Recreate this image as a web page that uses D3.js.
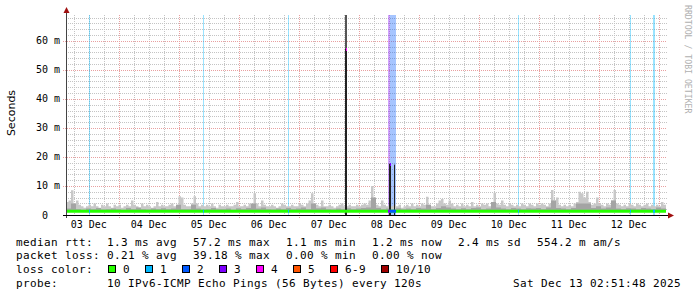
<!DOCTYPE html>
<meta charset="utf-8">
<style>
body { margin: 0; background: #fff; }
text { font-family: "DejaVu Sans Mono", monospace; }
.grid-minor line { stroke: #c4c4c4; stroke-dasharray: 1,1; }
.grid-major line { stroke: #e8a0a0; stroke-dasharray: 1,1; }
.legend text { font-size: 11px; letter-spacing: 0.38px; fill: #000; }
</style>
<svg width="697" height="297"></svg>
<script src="https://d3js.org/d3.v7.min.js"></script>
<script>

var parseTime = d3.timeParse("%Y-%m-%d %H:%M:%S"),
    parseMin = d3.timeParse("%Y-%m-%d %H:%M");

var startTime = "2025-12-03 02:51:48",
    endTime = "2025-12-13 02:51:48";

// median rtt (ms), one value per day
var medianDaily = [1.3, 1.3, 1.3, 1.3, 1.3, 1.3, 1.3, 1.3, 1.3, 1.3];

// top of the light smoke (ms), one value per hour
var smokeHi = [
  4.5, 5, 8.5, 4, 5, 3.5, 3, 2.5, 3, 3.5,
  3, 4, 3, 2.5, 3.5, 3, 4, 3, 2.5, 3.5,
  3, 3.5, 2.5, 3, 3.5, 3, 5, 3.5, 3, 2.5,
  4, 3, 3.5, 3, 2.5, 3, 4.5, 3, 3.5, 3,
  3, 3.5, 4, 3, 3.5, 6.5, 6, 3.5, 3, 3,
  4, 6.5, 4, 3, 3.5, 3, 3.5, 3, 4, 3,
  2.5, 3.5, 3, 3, 3.5, 3, 3, 3.5, 4.5, 3,
  3, 3.5, 3, 4, 3.5, 7.5, 4, 3, 5, 3.5,
  3, 3, 3.5, 3, 2.5, 3, 4, 3.5, 3, 3,
  3.5, 3, 3, 4, 3.5, 3, 4, 5, 7.5, 4,
  3.5, 3, 5, 3, 3, 3.5, 3, 2.5, 3, 3.5,
  4, 3, 3, 3.5, 3, 3, 3.5, 3, 3.5, 4,
  3.5, 5, 10, 4, 3.5, 3, 5, 3.5, 3, 3.5,
  3, 3.5, 3, 3.5, 2.5, 3, 3.5, 3, 4, 3,
  3.5, 3, 4, 3.5, 6.3, 3.5, 3, 3, 4, 5,
  5.5, 4, 3.5, 5, 4, 3, 3.5, 3, 4, 3,
  3.5, 3, 4.5, 3, 3.5, 3, 4, 3.5, 4, 3,
  4.5, 7.7, 4, 3.5, 5, 3.5, 3, 4, 3.5, 3,
  3.5, 3, 4, 3.5, 3, 4, 3.5, 3, 4, 3.5,
  4, 3.5, 3, 4, 8.6, 5, 6, 3.5, 3, 3.5,
  3, 3.5, 3, 4, 4.5, 8, 7.5, 6, 8, 4.5,
  3.5, 4, 6, 4, 3.5, 3, 4, 3.5, 5, 8.6,
  4, 3.5, 3, 3.5, 3, 4, 3.5, 3, 4, 3.5,
  3, 3.5, 4, 3, 3.5, 3, 3.5, 3, 4.5, 3.5
];

// top of the dark smoke (ms), one value per two hours
var smokeMid = [
  2.2, 4, 2, 1.8, 2.2, 2, 2.4, 1.9, 2, 2.2,
  2, 1.8, 2.4, 2, 2.6, 2, 1.9, 2.2, 2, 2.3,
  2, 2.2, 3.5, 2, 2, 3.5, 2.2, 1.9, 2, 2.4,
  2, 2, 2.2, 1.8, 2.3, 2, 2.4, 4, 2.2, 2.6,
  2, 1.9, 2.2, 2, 2.4, 2, 2.2, 2.6, 2, 4,
  2.3, 2.6, 2, 1.9, 2.2, 2, 2.3, 2, 2.2, 2.4,
  2.6, 6, 2.4, 2, 2.2, 1.9, 2.3, 2, 2.2, 2,
  2.4, 2.2, 3.5, 2, 2.4, 3, 2.6, 2.2, 2, 2.3,
  2, 2.4, 2.6, 2, 2.2, 4.5, 2.6, 2.2, 2, 2.4,
  2.2, 2, 2.3, 2.2, 2.4, 2, 2.6, 5, 2.4, 2.2,
  2, 2.4, 4, 4, 4, 2.4, 3, 2.2, 2.6, 5,
  2.2, 2, 2.3, 2.2, 2, 2.4, 2.2, 2, 2.6, 2.2
];

// loss background bands
var lossStart = ["2025-12-03 11:52", "2025-12-05 09:34", "2025-12-06 19:34", "2025-12-07 18:28",
                 "2025-12-08 11:46", "2025-12-08 12:28", "2025-12-10 15:34", "2025-12-12 12:22",
                 "2025-12-12 21:34"];
var lossMinutes = [24, 24, 24, 48, 42, 152, 24, 24, 48];
var lossLevel = [1, 1, 1, 4, 3, 2, 1, 1, 1];

// rtt spikes
var spikeStart = ["2025-12-07 18:28", "2025-12-08 12:04", "2025-12-08 14:00"];
var spikeMinutes = [48, 48, 32];
var spikeDark = [57.2, 17.6, 17.3];
var spikeMax = [75, 17.6, 17.3];
var spikeMedian = [57.2, 17.6, null];
var spikeLoss = [4, 3, 2];

var lossLabels = ["0", "1", "2", "3", "4", "5", "6-9", "10/10"];
var lossColors = ["#26ff00", "#00b8ff", "#0059ff", "#7e00ff", "#ff00ff", "#ff5500", "#ff0000", "#a00000"];
var yTicks = [0, 10, 20, 30, 40, 50, 60];

var svg = d3.select("svg"),
    start = parseTime(startTime),
    end = parseTime(endTime);

var x = d3.scaleTime().domain([start, end]).range([66, 666]),
    y = d3.scaleLinear().domain([0, 68.9]).range([215, 15]);

function px(v) { return Math.round(v) + 0.5; }

// integer pixel span for a time range, at least one pixel wide
function span(t0, minutes) {
  var a = Math.round(x(t0)), b = Math.round(x(d3.timeMinute.offset(t0, minutes)));
  return [a, Math.max(1, b - a)];
}

svg.append("defs").append("clipPath").attr("id", "plot")
  .append("rect").attr("x", 66).attr("y", 15).attr("width", 601).attr("height", 200);

// grid
var minorT = d3.timeHour.every(6).range(start, end).filter(function(d) { return d.getHours() != 0; }),
    majorT = d3.timeDay.range(start, end),
    minorY = d3.range(2, 69, 2).filter(function(d) { return d % 10 != 0; });

var gMinor = svg.append("g").attr("class", "grid-minor");
gMinor.selectAll(".v").data(minorT).enter().append("line")
    .attr("x1", function(d) { return px(x(d)); }).attr("x2", function(d) { return px(x(d)); })
    .attr("y1", 15).attr("y2", 215);
gMinor.selectAll(".h").data(minorY).enter().append("line")
    .attr("x1", 66).attr("x2", 667)
    .attr("y1", function(d) { return px(y(d)); }).attr("y2", function(d) { return px(y(d)); });

var gMajor = svg.append("g").attr("class", "grid-major");
gMajor.selectAll(".v").data(majorT).enter().append("line")
    .attr("x1", function(d) { return px(x(d)); }).attr("x2", function(d) { return px(x(d)); })
    .attr("y1", 15).attr("y2", 218);
gMajor.selectAll(".h").data(yTicks.slice(1)).enter().append("line")
    .attr("x1", 63).attr("x2", 667)
    .attr("y1", function(d) { return px(y(d)); }).attr("y2", function(d) { return px(y(d)); });

var plot = svg.append("g").attr("clip-path", "url(#plot)");

// loss background
lossStart.forEach(function(s, i) {
  var sp = span(parseMin(s), lossMinutes[i]);
  plot.append("rect").attr("x", sp[0]).attr("width", sp[1])
      .attr("y", 15).attr("height", 200)
      .attr("fill", lossColors[lossLevel[i]])
      .attr("fill-opacity", lossLevel[i] == 1 ? 0.4 : 0.35);
});

// smoke
var hiData = smokeHi.map(function(v, i) { return { t: d3.timeHour.offset(start, i), v: v }; });
hiData.push({ t: end, v: smokeHi[smokeHi.length - 1] });
var midData = smokeMid.map(function(v, i) { return { t: d3.timeHour.offset(start, i * 2), v: v }; });
midData.push({ t: end, v: smokeMid[smokeMid.length - 1] });

var smokeArea = d3.area().curve(d3.curveStepAfter)
    .x(function(d) { return x(d.t); })
    .y0(y(1.0))
    .y1(function(d) { return y(d.v); });

plot.append("path").datum(hiData).attr("d", smokeArea).attr("fill", "#c8c8c8");
plot.append("path").datum(midData).attr("d", smokeArea).attr("fill", "#a4a4a4");

// spikes
spikeStart.forEach(function(s, i) {
  var sp = span(parseMin(s), spikeMinutes[i]);
  plot.append("rect").attr("x", sp[0]).attr("width", sp[1])
      .attr("y", y(spikeMax[i])).attr("height", y(0) - y(spikeMax[i]))
      .attr("fill", "#555");
  plot.append("rect").attr("x", sp[0]).attr("width", sp[1])
      .attr("y", y(spikeDark[i])).attr("height", y(0) - y(spikeDark[i]))
      .attr("fill", "#222");
});

// median line
var medData = medianDaily.map(function(v, i) { return { t: d3.timeDay.offset(start, i), v: v }; });
medData.push({ t: end, v: medianDaily[medianDaily.length - 1] });
plot.append("path").datum(medData)
    .attr("d", d3.line().curve(d3.curveStepAfter).x(function(d) { return x(d.t); }).y(function(d) { return y(d.v); }))
    .attr("fill", "none").attr("stroke", lossColors[0]).attr("stroke-width", 3);

// median coloured by loss
lossStart.forEach(function(s, i) {
  if (lossLevel[i] == 4) return;
  var sp = span(parseMin(s), lossMinutes[i]);
  plot.append("rect").attr("x", sp[0]).attr("width", sp[1])
      .attr("y", y(1.3) - 1.5).attr("height", 3)
      .attr("fill", lossColors[lossLevel[i]]);
});
spikeStart.forEach(function(s, i) {
  if (spikeMedian[i] == null) return;
  var sp = span(parseMin(s), spikeMinutes[i]);
  plot.append("rect").attr("x", sp[0] + 1).attr("width", 1)
      .attr("y", Math.round(y(spikeMedian[i])) - 1).attr("height", 3)
      .attr("fill", lossColors[spikeLoss[i]]);
});

// axes
svg.append("line").attr("x1", 66.5).attr("x2", 66.5).attr("y1", 218).attr("y2", 11)
    .attr("stroke", "#444");
svg.append("line").attr("x1", 63).attr("x2", 669).attr("y1", 215.5).attr("y2", 215.5)
    .attr("stroke", "#000");
svg.append("path").attr("d", "M63.5,13L69.5,13L66.5,7Z").attr("fill", "#a01010");
svg.append("path").attr("d", "M668,212.5L668,218.5L674,215.5Z").attr("fill", "#a01010");

svg.selectAll(".ylab").data(yTicks).enter().append("text")
    .attr("x", function(d) { return d == 0 ? 48 : 60; })
    .attr("y", function(d) { return y(d) + 3.5; })
    .attr("text-anchor", "end").attr("font-size", 10)
    .text(function(d) { return d == 0 ? "0" : d + " m"; });

svg.selectAll(".xlab").data(majorT.map(function(d) { return d3.timeDay.offset(d, -1); })).enter().append("text")
    .attr("x", function(d) { return x(d3.timeHour.offset(d, 12)); })
    .attr("y", 228)
    .attr("text-anchor", "middle").attr("font-size", 10)
    .text(d3.timeFormat("%d %b"));

svg.append("text").attr("transform", "translate(15,113) rotate(-90)")
    .attr("text-anchor", "middle").style("font-family", "'DejaVu Sans', sans-serif")
    .attr("font-size", 11).text("Seconds");

svg.append("text").attr("transform", "translate(685,5) rotate(90)")
    .attr("font-size", 8.2).attr("fill", "#b0b0b0").text("RRDTOOL / TOBI OETIKER");

// legend
var legend = svg.append("g").attr("class", "legend");
var rows = [
  [[16, "median rtt:"], [107, "1.3 ms avg"], [193, "57.2 ms max"], [286, "1.1 ms min"],
   [372, "1.2 ms now"], [458, "2.4 ms sd"], [537, "554.2 m am/s"]],
  [[16, "packet loss:"], [107, "0.21 % avg"], [193, "39.18 % max"], [286, "0.00 % min"],
   [372, "0.00 % now"]],
  [[16, "loss color:"]],
  [[16, "probe:"], [107, "10 IPv6-ICMP Echo Pings (56 Bytes) every 120s"],
   [513, "Sat Dec 13 02:51:48 2025"]]
];
var rowY = [245.5, 259.3, 273.1, 287];
rows.forEach(function(r, i) {
  r.forEach(function(c) {
    legend.append("text").attr("x", c[0]).attr("y", rowY[i]).text(c[1]);
  });
});

var swatchX = [108.5, 145.5, 182.5, 219.5, 256.5, 293.5, 330.5, 381.5];
lossLabels.forEach(function(l, i) {
  legend.append("rect").attr("x", swatchX[i]).attr("y", 265.5).attr("width", 7).attr("height", 7)
      .attr("fill", lossColors[i]).attr("stroke", "#000");
  legend.append("text").attr("x", swatchX[i] + 14.5).attr("y", rowY[2]).text(l);
});

</script>
